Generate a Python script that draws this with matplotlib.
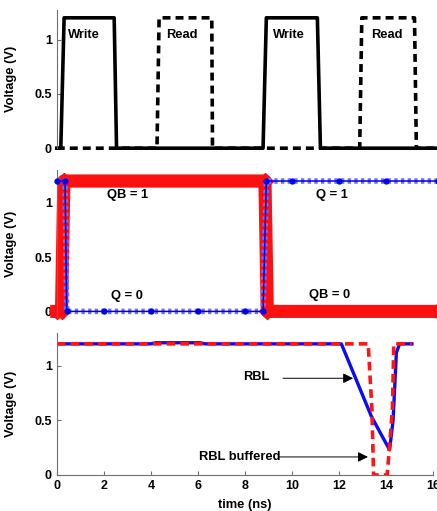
import numpy as np
import matplotlib.pyplot as plt

plt.rcParams['font.family'] = ['Liberation Sans', 'DejaVu Sans']
plt.rcParams['font.weight'] = 'bold'

# top panel: write / read control pulses
t_write = [0, 0.17, 0.31, 2.44, 2.54, 8.77, 8.91, 11.08, 11.21, 16.2]
v_write = [0, 0, 1.2, 1.2, 0, 0, 1.2, 1.2, 0, 0]
t_read = [0, 4.26, 4.35, 6.59, 6.62, 12.88, 12.97, 15.21, 15.29, 16.2]
v_read = [0, 0, 1.2, 1.2, 0, 0, 1.2, 1.2, 0, 0]

# middle panel: storage nodes
t_q = [0, 0.35, 0.42, 2, 4, 6, 8, 8.77, 8.91, 10, 12, 14, 16.2]
v_q = [1.2, 1.2, 0, 0, 0, 0, 0, 0, 1.2, 1.2, 1.2, 1.2, 1.2]
t_qb = [0, 0.2, 0.3, 8.85, 8.95, 16.2]
v_qb = [0, 0, 1.2, 1.2, 0, 0]

# bottom panel: read bit line
t_rbl = [0, 4.0, 4.2, 6.1, 6.3, 12.1, 13.38, 14.15, 14.3, 14.44, 14.58, 15.1]
v_rbl = [1.2, 1.2, 1.21, 1.21, 1.2, 1.2, 0.535, 0.23, 0.5, 1.12, 1.2, 1.2]
t_buf = [0, 13.24, 13.4, 13.47, 14.05, 14.27, 14.33, 15.1]
v_buf = [1.2, 1.2, 0.6, 0, 0, 0.6, 1.2, 1.2]

fig = plt.figure(figsize=(4.37, 5.11), dpi=100)
ax1 = fig.add_axes([0.130, 0.710, 0.861, 0.270])
ax2 = fig.add_axes([0.130, 0.380, 0.861, 0.287])
ax3 = fig.add_axes([0.130, 0.0705, 0.861, 0.278])

spine_col = '#707070'
for ax in (ax1, ax2, ax3):
    ax.set_xlim(0, 16)
    ax.spines['top'].set_visible(False)
    ax.spines['right'].set_visible(False)
    ax.spines['left'].set_color(spine_col)
    ax.spines['bottom'].set_color(spine_col)
    ax.tick_params(direction='in', color=spine_col, length=3, labelsize=9)
    ax.set_yticks([0, 0.5, 1])
    ax.set_yticklabels(['0', '0.5', '1'], fontweight='bold')
    ax.set_ylabel('Voltage (V)', fontsize=9.3, fontweight='bold')
    ax.yaxis.set_label_coords(-0.105, 0.5)

# top
ax1.plot(t_write, v_write, color='k', lw=2.6, clip_on=False)
ax1.plot(t_read, v_read, color='k', lw=2.6, ls=(0, (2.2, 1.4)), clip_on=False)
ax1.set_ylim(0, 1.27)
ax1.spines['bottom'].set_visible(False)
ax1.set_xticks([])
for x, s in [(0.48, 'Write'), (4.66, 'Read'), (9.19, 'Write'), (13.37, 'Read')]:
    ax1.text(x, 1.045, s, fontsize=9.3, fontweight='bold', ha='left', va='center')

# middle
ax2.plot(t_qb, v_qb, color='#ff1010', lw=9.5, clip_on=False, zorder=2)
ax2.plot(t_qb, v_qb, color='#ff1010', lw=0, marker='D', ms=8, clip_on=False, zorder=2)
ax2.plot(t_q, v_q, color='#7070ff', lw=4, ls=(0, (0.6, 0.6)), clip_on=False, zorder=3)
ax2.plot(t_q, v_q, color='#0000ee', lw=1.1, marker='o', ms=3.5, clip_on=False, zorder=4)
ax2.set_ylim(-0.05, 1.3)
ax2.spines['bottom'].set_visible(False)
ax2.set_xticks([])
ax2.text(3.0, 1.07, 'QB = 1', fontsize=9.3, fontweight='bold', ha='center', va='center')
ax2.text(11.7, 1.07, 'Q = 1', fontsize=9.3, fontweight='bold', ha='center', va='center')
ax2.text(3.0, 0.14, 'Q = 0', fontsize=9.3, fontweight='bold', ha='center', va='center')
ax2.text(11.6, 0.15, 'QB = 0', fontsize=9.3, fontweight='bold', ha='center', va='center')

# bottom
ax3.plot(t_rbl, v_rbl, color='#0a0aff', lw=2.4)
ax3.plot(t_buf, v_buf, color='#ff1515', lw=2.6, ls=(0, (2.4, 1.4)))
ax3.set_ylim(0, 1.3)
ax3.set_xticks(np.arange(0, 17, 2))
ax3.set_xticklabels([str(v) for v in range(0, 17, 2)], fontweight='bold')
ax3.set_xlabel('time (ns)', fontsize=9.3, fontweight='bold', labelpad=5)

ax3.text(8.47, 0.90, 'RBL', fontsize=9.3, fontweight='bold', ha='center', va='center')
ax3.annotate('', xy=(12.6, 0.885), xytext=(9.62, 0.885),
             arrowprops=dict(arrowstyle='-|>', color='k', lw=0.7, mutation_scale=15,
                             shrinkA=0, shrinkB=0))
ax3.text(7.78, 0.168, 'RBL buffered', fontsize=9.3, fontweight='bold', ha='center', va='center')
ax3.annotate('', xy=(13.23, 0.165), xytext=(9.46, 0.165),
             arrowprops=dict(arrowstyle='-|>', color='k', lw=0.7, mutation_scale=15,
                             shrinkA=0, shrinkB=0))

fig.savefig('out.png', dpi=100)
